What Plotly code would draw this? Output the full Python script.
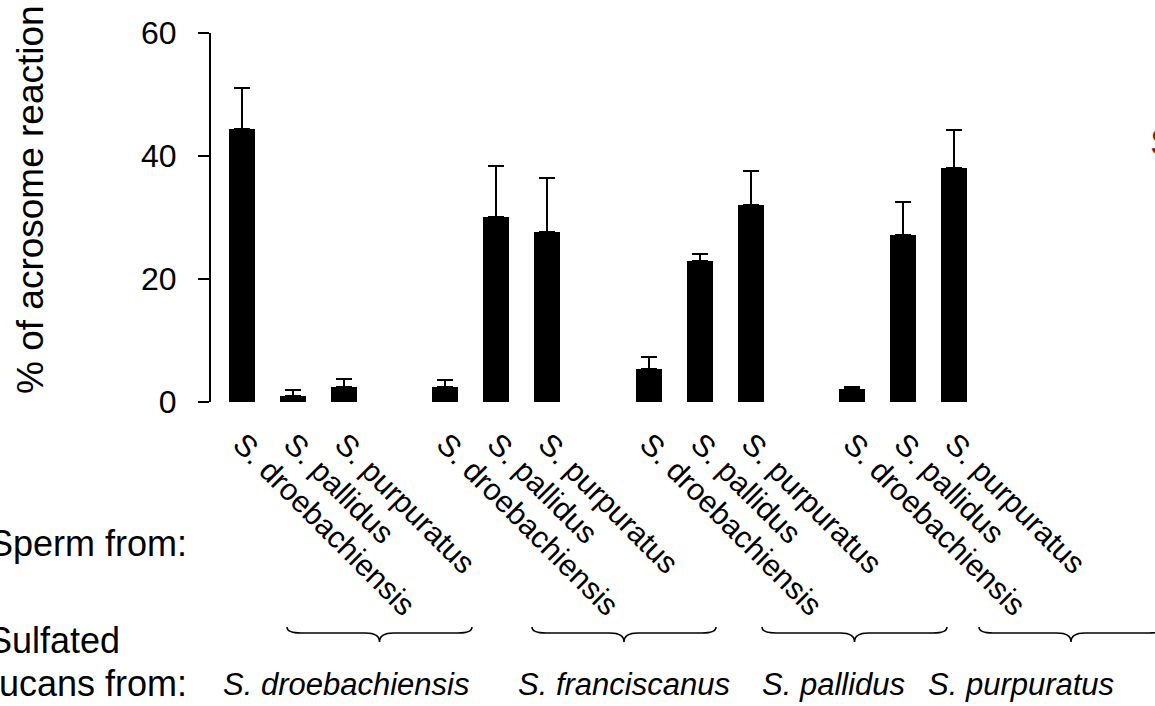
import plotly.graph_objects as go

# ---------------- data ----------------
sperm_species = ["S. droebachiensis", "S. pallidus", "S. purpuratus",
                 "S. droebachiensis", "S. pallidus", "S. purpuratus",
                 "S. droebachiensis", "S. pallidus", "S. purpuratus",
                 "S. droebachiensis", "S. pallidus", "S. purpuratus"]
fucan_sources = ["S. droebachiensis", "S. franciscanus", "S. pallidus", "S. purpuratus"]
acrosome_pct = [44.4, 1.0, 2.4, 2.5, 30.1, 27.6, 5.4, 22.9, 32.0, 2.1, 27.2, 38.0]
acrosome_err = [6.7, 1.0, 1.4, 1.0, 8.3, 8.8, 1.9, 1.2, 5.6, 0.3, 5.4, 6.3]
y_ticks = [0, 20, 40, 60]

# ---------------- layout constants (pixels) ----------------
W, H = 1155, 706
L, R_EDGE, T, B_EDGE = 211, 1000, 33, 402
FONT = "Liberation Sans, Arial, sans-serif"
n_per_group = 3
slots = [g * (n_per_group + 1) + i for g in range(len(fucan_sources)) for i in range(n_per_group)]

brace_spans = [(287, 472), (532, 716), (762, 947), (979, 1163)]
group_label_x = [346, 624, 833, 1021]


def px_x(px):
    return (px - L) / (R_EDGE - L)


def px_y(py):
    return (B_EDGE - py) / (B_EDGE - T)


def brace_path(x1, x2, ytop=627, yline=633, ytip=642, r=14):
    xm = (x1 + x2) / 2
    pts = [
        ("M", [(x1, ytop)]),
        ("Q", [(x1, yline), (x1 + r, yline)]),
        ("L", [(xm - r, yline)]),
        ("Q", [(xm, yline), (xm, ytip)]),
        ("Q", [(xm, yline), (xm + r, yline)]),
        ("L", [(x2 - r, yline)]),
        ("Q", [(x2, yline), (x2, ytop)]),
    ]
    s = ""
    for cmd, ps in pts:
        s += cmd + " " + " ".join(f"{px_x(a):.5f},{px_y(b):.5f}" for a, b in ps) + " "
    return s.strip()


fig = go.Figure()
fig.add_trace(go.Bar(
    x=slots, y=acrosome_pct, width=0.51,
    marker=dict(color="black", line=dict(width=0)),
    error_y=dict(type="data", symmetric=False, array=acrosome_err,
                 arrayminus=[0] * len(acrosome_err),
                 color="black", thickness=2, width=8),
    showlegend=False,
))

x_per_px = 1 / 50.86
x0 = -(242 - L) * x_per_px
x1 = x0 + (R_EDGE - L) * x_per_px

shapes = [dict(type="path", xref="paper", yref="paper", path=brace_path(a, b),
               line=dict(color="black", width=1.6)) for a, b in brace_spans]

annotations = [
    dict(text="% of acrosome reaction", textangle=-90, xref="paper", yref="paper",
         x=px_x(30), y=px_y(200), xanchor="center", yanchor="middle", showarrow=False,
         font=dict(family=FONT, size=37, color="black")),
    dict(text="Sperm from:", xref="paper", yref="paper", x=px_x(-13), y=px_y(543),
         xanchor="left", yanchor="middle", showarrow=False,
         font=dict(family=FONT, size=36, color="black")),
    dict(text="Sulfated", xref="paper", yref="paper", x=px_x(-14), y=px_y(640),
         xanchor="left", yanchor="middle", showarrow=False,
         font=dict(family=FONT, size=36, color="black")),
    dict(text="fucans from:", xref="paper", yref="paper", x=px_x(-13), y=px_y(683),
         xanchor="left", yanchor="middle", showarrow=False,
         font=dict(family=FONT, size=36, color="black")),
    dict(text="S", xref="paper", yref="paper", x=px_x(1148), y=px_y(142),
         xanchor="left", yanchor="middle", showarrow=False,
         font=dict(family=FONT, size=37, color="#8b1a1a")),
]
for name, cx in zip(fucan_sources, group_label_x):
    annotations.append(dict(text=f"<i>{name}</i>", xref="paper", yref="paper",
                            x=px_x(cx), y=px_y(684), xanchor="center", yanchor="middle",
                            showarrow=False, font=dict(family=FONT, size=31, color="black")))

fig.update_layout(
    width=W, height=H,
    margin=dict(l=L, r=W - R_EDGE, t=T, b=H - B_EDGE, pad=0),
    paper_bgcolor="white", plot_bgcolor="white",
    font=dict(family=FONT, color="black"),
    xaxis=dict(range=[x0, x1], tickmode="array", tickvals=slots, ticktext=sperm_species,
               tickangle=45, tickfont=dict(size=30.5, color="black"), showline=False,
               showgrid=False, zeroline=False, ticks="", ticklabelstandoff=17),
    yaxis=dict(range=[0, 60], tickmode="array", tickvals=y_ticks,
               ticks="outside", ticklen=11, tickwidth=2, tickcolor="black",
               showline=True, linecolor="black", linewidth=2,
               showgrid=False, zeroline=False,
               tickfont=dict(size=32, color="black"), ticklabelstandoff=15),
    shapes=shapes,
    annotations=annotations,
    bargap=0,
)

fig.write_html("out.html")
